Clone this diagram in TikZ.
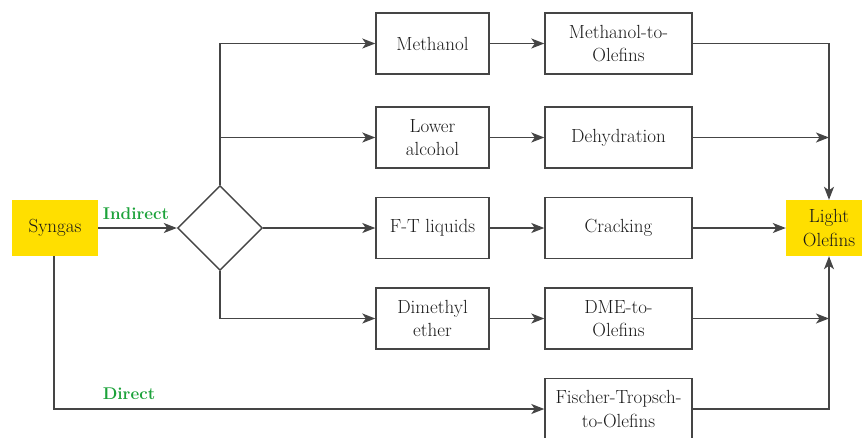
\documentclass[tikz,border=0pt]{standalone}
\usepackage{fontspec}
\usetikzlibrary{shapes.geometric,arrows.meta}
\definecolor{boxyellow}{HTML}{FFDF00}
\definecolor{labgreen}{HTML}{1CA23A}
\definecolor{linegray}{HTML}{454545}
\definecolor{txtgray}{HTML}{1A1A1A}
\begin{document}
\begin{tikzpicture}[x=1pt,y=-1pt,
  every node/.style={font=\fontsize{19}{23.5}\selectfont, text=txtgray, align=center, inner sep=0pt},
  procbox/.style={draw=linegray, line width=1.4pt, rectangle, minimum height=61pt},
  colone/.style={procbox, minimum width=113pt},
  coltwo/.style={procbox, minimum width=147pt},
  endbox/.style={rectangle, fill=boxyellow, minimum width=86pt, minimum height=56pt},
  branch/.style={draw=linegray, line width=1.4pt},
  flow/.style={branch, -{Stealth[length=13pt,width=10pt,inset=3.5pt]}},
  lab/.style={font=\fontsize{17}{22}\selectfont\bfseries, text=labgreen}
]
\useasboundingbox (0,0) rectangle (862,437);
\clip (0,0) rectangle (862,437);

\node[endbox] (syn) at (55,228) {Syngas};
\node[draw=linegray, line width=1.4pt, diamond, minimum width=85pt, minimum height=85pt] (dia) at (220,228) {};

\node[colone] (meth) at (432.5,43.5) {Methanol};
\node[colone] (lowa) at (432.5,137.5) {Lower\\alcohol};
\node[colone] (ftl) at (432.5,228) {F-T liquids};
\node[colone] (dme) at (432.5,318.5) {Dimethyl\\ether};

\node[coltwo] (mto) at (618.5,43.5) {Methanol-to-\\Olefins};
\node[coltwo] (deh) at (618.5,137.5) {Dehydration};
\node[coltwo] (crk) at (618.5,228) {Cracking};
\node[coltwo] (dto) at (618.5,318.5) {DME-to-\\Olefins};
\node[coltwo] (fto) at (618.5,409) {Fischer-Tropsch-\\to-Olefins};

\node[endbox] (lo) at (829,228) {Light\\Olefins};

\coordinate (jdeh) at (829,137.5);
\coordinate (jdto) at (829,318.5);
\coordinate (sdown) at (54,256);

% indirect
\draw[flow] (syn.east) -- (dia.west);
\node[lab, anchor=base] (lind) at (136,219) {Indirect};
\draw[flow] (dia.north) |- (meth.west);
\draw[flow] (dia.north) |- (lowa.west);
\draw[flow] (dia.east) -- (ftl.west);
\draw[flow] (dia.south) |- (dme.west);

\draw[flow] (meth) -- (mto);
\draw[flow] (lowa) -- (deh);
\draw[flow] (ftl) -- (crk);
\draw[flow] (dme) -- (dto);

\draw[flow] (mto.east) -| (lo.north);
\draw[flow] (deh.east) -- (jdeh);
\draw[flow] (crk.east) -- (lo.west);
\draw[flow] (dto.east) -- (jdto);
\draw[flow] (fto.east) -| (lo.south);

% direct
\draw[flow] (sdown) |- (fto.west);
\node[lab, anchor=base] (ldir) at (129,399) {Direct};
\end{tikzpicture}
\end{document}
